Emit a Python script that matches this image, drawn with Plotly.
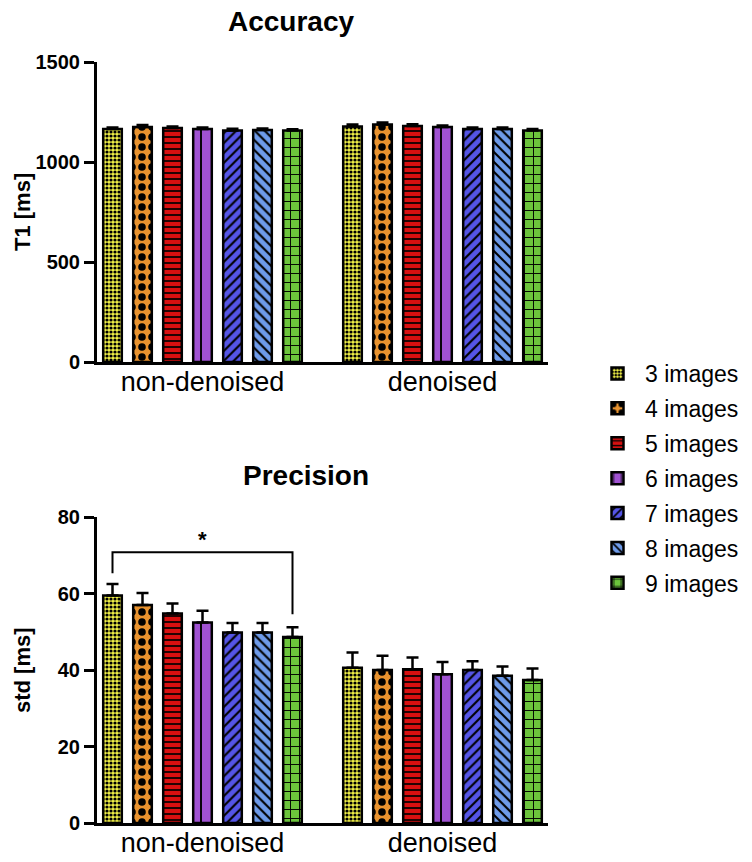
import plotly.graph_objects as go

# data
groups = ["non-denoised", "denoised"]
series = ["3 images", "4 images", "5 images", "6 images", "7 images", "8 images", "9 images"]

t1_mean = {
    "non-denoised": [1165, 1175, 1170, 1165, 1158, 1160, 1157],
    "denoised": [1178, 1188, 1180, 1175, 1165, 1165, 1158],
}
t1_err = {
    "non-denoised": [8, 10, 8, 7, 8, 8, 7],
    "denoised": [10, 10, 9, 7, 8, 8, 7],
}
std_mean = {
    "non-denoised": [59.5, 57.0, 54.8, 52.4, 49.8, 49.8, 48.6],
    "denoised": [40.6, 40.0, 40.2, 38.9, 40.0, 38.5, 37.4],
}
std_err = {
    "non-denoised": [3.0, 3.1, 2.6, 3.1, 2.5, 2.5, 2.6],
    "denoised": [4.0, 3.7, 3.1, 3.2, 2.3, 2.4, 3.0],
}

colors = ["#F0F046", "#E8922E", "#D81010", "#A052D2", "#5555E6", "#6E9BEA", "#6CC43C"]
patterns = [
    dict(shape=".", size=4, solidity=0.5),
    dict(shape=".", size=10, solidity=0.45),
    dict(shape="-", size=6, solidity=0.28),
    dict(shape="|", size=16, solidity=0.12),
    dict(shape="/", size=7, solidity=0.3),
    dict(shape="\\", size=7, solidity=0.3),
    dict(shape="+", size=9, solidity=0.2),
]

# significance bracket in the precision panel
sig_group = "non-denoised"
sig_pair = (0, 6)
sig_level = 70.8
sig_legs = (65.3, 54.6)
sig_label = "*"

BARGAP = 0.125
FONT = "Liberation Sans, Arial, sans-serif"
W, H = 752, 862

fig = go.Figure()

for panel, (means, errs, xa, ya) in enumerate([(t1_mean, t1_err, "x", "y"), (std_mean, std_err, "x2", "y2")]):
    for i, name in enumerate(series):
        fig.add_trace(go.Bar(
            x=groups,
            y=[means[g][i] for g in groups],
            name=name,
            legendgroup=name,
            showlegend=(panel == 0),
            xaxis=xa, yaxis=ya,
            marker=dict(color=colors[i], line=dict(color="black", width=2.5),
                        pattern=dict(fillmode="replace", bgcolor=colors[i], fgcolor="black", **patterns[i])),
            error_y=dict(type="data", symmetric=False, array=[errs[g][i] for g in groups],
                         arrayminus=[0, 0], color="black", thickness=2.5, width=6),
        ))


def px_x(p):
    return p / W


def px_y(p):
    return 1 - p / H


axis_common = dict(showline=True, linewidth=3, linecolor="black", showgrid=False, zeroline=False,
                   automargin=False)
xcommon = dict(axis_common, ticks="", ticklen=0, ticklabelstandoff=-6, range=[-0.4396, 1.4396],
               tickfont=dict(family=FONT, size=27, color="black"))
ycommon = dict(axis_common, ticks="outside", ticklen=10, tickwidth=3, tickcolor="black",
               tickfont=dict(family=FONT, size=20, color="black", weight="bold"))

fig.update_layout(
    template="none",
    width=W, height=H,
    margin=dict(l=0, r=0, t=0, b=0, pad=0, autoexpand=False),
    paper_bgcolor="white", plot_bgcolor="white",
    barmode="group", bargap=BARGAP, bargroupgap=0.38,
    font=dict(family=FONT, color="black"),
    xaxis=dict(xcommon, domain=[px_x(97), px_x(548)], anchor="y"),
    yaxis=dict(ycommon, domain=[px_y(362), px_y(62)], range=[0, 1500], tickvals=[0, 500, 1000, 1500], anchor="x"),
    xaxis2=dict(xcommon, domain=[px_x(97), px_x(548)], anchor="y2"),
    yaxis2=dict(ycommon, domain=[px_y(823), px_y(517)], range=[0, 80], tickvals=[0, 20, 40, 60, 80], anchor="x2"),
    legend=dict(x=px_x(590), y=px_y(352), xanchor="left", yanchor="top", itemwidth=45,
                font=dict(family=FONT, size=23, color="black"), tracegroupgap=2,
                bgcolor="rgba(0,0,0,0)", borderwidth=0),
    showlegend=True,
)

title_font = dict(family=FONT, size=28, color="black", weight="bold")
axis_title_font = dict(family=FONT, size=22, color="black", weight="bold")
for text, x, y, angle, font in [("Accuracy", 291, 22, 0, title_font),
                                ("Precision", 306, 476, 0, title_font),
                                ("T1 [ms]", 22, 212, -90, axis_title_font),
                                ("std [ms]", 22, 670, -90, axis_title_font)]:
    fig.add_annotation(text=text, x=px_x(x), y=px_y(y), xref="paper", yref="paper",
                       xanchor="center", yanchor="middle", textangle=angle,
                       showarrow=False, font=font)

# bracket: bar centres follow the grouped-bar layout
slot = (1 - BARGAP) / len(series)
gx = groups.index(sig_group)
xa = gx - (1 - BARGAP) / 2 + slot * (sig_pair[0] + 0.5)
xb = gx - (1 - BARGAP) / 2 + slot * (sig_pair[1] + 0.5)
fig.add_shape(type="path", xref="x2", yref="y2",
              path=f"M {xa},{sig_legs[0]} L {xa},{sig_level} L {xb},{sig_level} L {xb},{sig_legs[1]}",
              line=dict(color="black", width=2))
fig.add_annotation(text=sig_label, x=(xa + xb) / 2, y=sig_level, xref="x2", yref="y2",
                   yanchor="bottom", yshift=-2, showarrow=False,
                   font=dict(family=FONT, size=22, color="black", weight="bold"))

# drop the default page margin so the figure sits at the window's corner
fig.write_html("out.html", config={"displayModeBar": False},
               post_script="document.body.style.margin='0';")
